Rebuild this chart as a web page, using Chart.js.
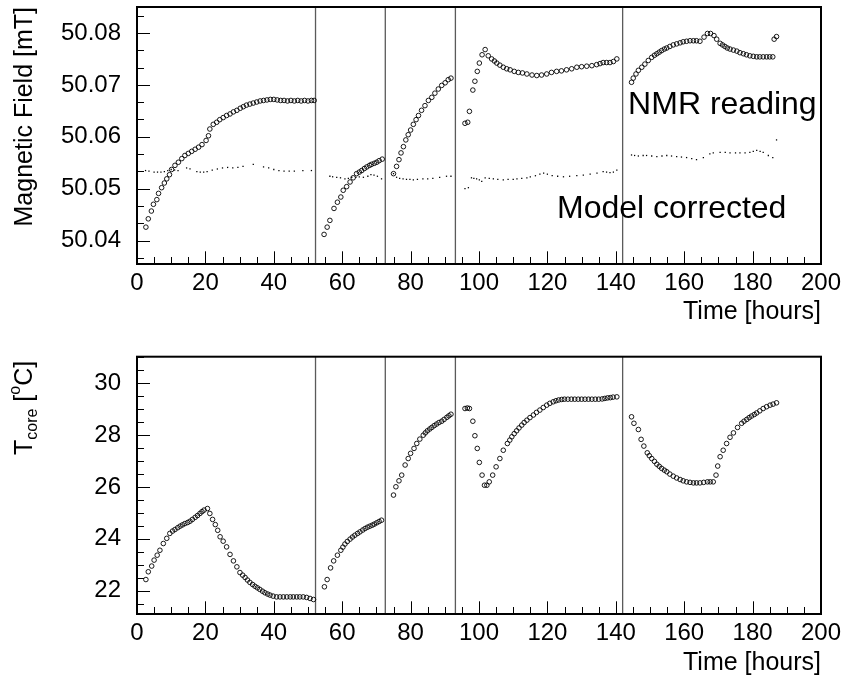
<!DOCTYPE html>
<html><head><meta charset="utf-8">
<script src="https://cdn.jsdelivr.net/npm/chart.js@4/dist/chart.umd.min.js"></script>
<style>
html,body{margin:0;padding:0;background:#fff;overflow:hidden;width:846px;height:675px;position:relative}
#c1{position:absolute;left:0;top:0}
#c2{position:absolute;left:0;top:337px}
</style></head><body>
<canvas id="c1" width="846" height="337"></canvas>
<canvas id="c2" width="846" height="360"></canvas>
<script>
// ---------- data ----------
const nmrTime = [
 2.6,3.3,4.2,4.8,5.8,6.3,7.2,8.0,8.7,9.5,10.1,11.1,12.1,13.1,14.0,15.0,16.0,17.0,18.0,19.0,20.2,20.9,21.3,22.3,23.3,24.2,25.2,26.2,27.2,28.2,29.2,30.2,31.1,32.0,33.0,34.0,35.0,36.0,37.0,38.0,39.0,40.0,41.0,42.0,43.0,44.0,45.0,46.0,47.0,48.0,49.0,50.0,51.0,51.8,
 54.7,55.6,56.4,57.6,58.6,59.6,60.3,61.3,62.3,63.2,64.2,65.0,65.7,66.5,67.2,68.0,68.6,69.4,70.1,70.8,71.7,
 75.0,75.9,76.6,77.2,77.9,78.6,79.3,80.0,80.8,81.6,82.3,83.2,84.2,85.2,86.2,87.1,88.1,89.1,90.1,91.0,91.8,
 95.9,96.7,97.2,98.2,98.8,99.5,100.1,100.9,101.8,102.7,103.7,104.5,105.2,106.1,107.1,108.1,109.1,110.3,111.5,112.7,114.0,115.5,116.9,118.3,119.8,121.2,122.7,124.1,125.6,127.1,128.6,130.0,131.5,133.0,134.4,135.4,136.3,137.3,138.3,139.3,140.3,
 144.6,145.1,145.9,146.6,147.6,148.5,149.5,150.5,151.3,152.0,152.7,153.4,154.2,154.9,155.8,156.8,157.8,158.8,159.7,160.7,161.7,162.7,163.6,164.6,165.8,166.8,167.7,168.7,169.5,170.5,171.2,171.9,172.6,173.4,174.4,175.4,176.3,177.3,178.2,179.2,180.2,181.2,182.1,183.1,184.1,185.0,185.9,186.3,187.0
];
const nmrField = [
 50.0426,50.0442,50.0457,50.0470,50.0479,50.0491,50.0502,50.0511,50.0519,50.0527,50.0537,50.0545,50.0551,50.0558,50.0564,50.0568,50.0572,50.0576,50.0580,50.0585,50.0593,50.0602,50.0615,50.0624,50.0628,50.0633,50.0637,50.0641,50.0644,50.0648,50.0651,50.0655,50.0658,50.0661,50.0663,50.0665,50.0667,50.0669,50.0670,50.0671,50.0672,50.0672,50.0671,50.0670,50.0670,50.0669,50.0670,50.0669,50.0670,50.0669,50.0670,50.0669,50.0670,50.0670,
 50.0412,50.0426,50.0439,50.0462,50.0474,50.0484,50.0497,50.0504,50.0513,50.0521,50.0529,50.0532,50.0535,50.0539,50.0542,50.0545,50.0547,50.0549,50.0551,50.0554,50.0557,
 50.0529,50.0543,50.0556,50.0569,50.0581,50.0594,50.0604,50.0613,50.0624,50.0633,50.0641,50.0651,50.0660,50.0670,50.0676,50.0684,50.0692,50.0699,50.0704,50.0710,50.0713,
 50.0626,50.0628,50.0649,50.0690,50.0707,50.0726,50.0742,50.0758,50.0768,50.0756,50.0750,50.0746,50.0742,50.0738,50.0734,50.0731,50.0729,50.0726,50.0724,50.0723,50.0721,50.0719,50.0718,50.0719,50.0721,50.0724,50.0726,50.0727,50.0729,50.0731,50.0734,50.0735,50.0736,50.0737,50.0739,50.0741,50.0743,50.0743,50.0743,50.0745,50.0750,
 50.0705,50.0713,50.0721,50.0728,50.0734,50.0740,50.0747,50.0753,50.0757,50.0760,50.0763,50.0766,50.0769,50.0771,50.0774,50.0777,50.0779,50.0781,50.0783,50.0784,50.0785,50.0785,50.0785,50.0784,50.0792,50.0799,50.0799,50.0795,50.0788,50.0780,50.0777,50.0774,50.0771,50.0769,50.0767,50.0765,50.0762,50.0760,50.0758,50.0756,50.0755,50.0754,50.0754,50.0754,50.0754,50.0754,50.0754,50.0788,50.0793
];
const modelTime = [
 2.5,3.5,5.0,6.0,7.0,8.0,9.0,10.0,11.0,12.0,14.5,15.5,17.5,18.5,19.5,20.5,22.0,23.5,25.0,26.5,28.0,29.5,31.0,34.0,37.0,38.5,40.0,41.5,43.0,44.5,46.0,48.5,51.0,
 56.4,57.2,58.4,59.5,60.8,61.8,62.8,64.0,65.0,66.2,67.5,68.4,69.3,70.3,71.5,
 75.0,75.9,76.8,77.8,78.8,79.8,80.8,82.0,83.6,85.0,86.5,88.5,90.5,91.8,
 95.9,96.9,97.8,98.5,99.3,100.1,100.8,101.8,103.0,104.2,105.5,107.1,108.5,110.0,111.1,112.5,114.0,115.0,116.5,117.8,118.9,120.0,121.4,123.0,124.7,126.5,128.6,130.5,132.5,134.5,136.3,137.3,138.3,139.3,140.3,
 144.6,145.5,146.6,148.0,149.0,150.5,152.0,153.5,154.9,156.3,157.8,159.2,160.7,162.2,163.6,165.6,167.5,168.5,170.5,172.0,173.4,175.0,176.3,177.8,179.2,180.2,181.2,182.2,183.1,184.6,185.9,187.0
];
const modelField = [
 50.0535,50.0534,50.0532,50.0532,50.0532,50.0533,50.0535,50.0537,50.0536,50.0535,50.0540,50.0538,50.0533,50.0532,50.0532,50.0533,50.0536,50.0538,50.0540,50.0541,50.0540,50.0541,50.0543,50.0547,50.0542,50.0540,50.0537,50.0535,50.0534,50.0534,50.0534,50.0535,50.0535,
 50.0524,50.0523,50.0522,50.0521,50.0519,50.0520,50.0522,50.0522,50.0523,50.0522,50.0524,50.0527,50.0526,50.0524,50.0519,
 50.0529,50.0522,50.0520,50.0519,50.0518,50.0518,50.0517,50.0518,50.0519,50.0519,50.0520,50.0522,50.0524,50.0524,
 50.0500,50.0502,50.0521,50.0520,50.0519,50.0517,50.0514,50.0521,50.0520,50.0519,50.0518,50.0517,50.0518,50.0518,50.0519,50.0520,50.0521,50.0523,50.0525,50.0528,50.0530,50.0528,50.0525,50.0524,50.0523,50.0524,50.0525,50.0526,50.0528,50.0530,50.0533,50.0532,50.0531,50.0532,50.0536,
 50.0565,50.0564,50.0563,50.0564,50.0564,50.0563,50.0562,50.0563,50.0564,50.0563,50.0562,50.0561,50.0560,50.0558,50.0556,50.0560,50.0567,50.0569,50.0570,50.0570,50.0569,50.0569,50.0569,50.0569,50.0570,50.0572,50.0574,50.0572,50.0570,50.0564,50.0560,50.0594
];
const coreTime = [
 2.6,3.3,4.3,5.0,5.9,6.7,7.7,8.7,9.6,10.4,11.1,11.9,12.6,13.3,14.0,14.8,15.5,16.2,17.0,17.7,18.4,19.0,19.6,20.6,21.3,22.1,22.9,23.6,24.3,25.2,26.2,27.2,28.2,29.2,30.1,30.9,31.6,32.3,33.0,33.8,34.5,35.2,35.9,36.7,37.4,38.2,38.9,39.8,40.8,41.8,42.8,43.8,44.8,45.7,46.7,47.6,48.6,49.6,50.6,51.6,
 54.8,55.6,56.6,57.5,58.6,59.6,60.2,60.8,61.5,62.3,63.0,63.7,64.5,65.2,66.0,66.7,67.4,68.1,68.8,69.4,70.1,70.8,71.5,
 75.0,75.7,76.6,77.4,78.4,79.3,80.0,81.0,81.8,82.7,83.7,84.3,84.9,85.6,86.2,86.9,87.6,88.3,89.1,89.8,90.6,91.2,91.8,
 95.9,96.6,97.2,98.2,98.8,99.5,100.1,100.9,101.6,102.3,103.0,104.0,105.0,106.1,107.1,108.3,109.0,109.6,110.3,111.0,111.7,112.5,113.2,114.0,114.9,115.9,116.8,117.8,118.8,119.8,120.7,121.7,122.5,123.3,124.2,125.0,126.0,127.0,128.0,129.0,130.0,131.0,132.0,133.0,134.0,135.0,136.0,136.8,137.6,138.4,139.2,140.3,
 144.6,145.3,146.6,147.4,148.2,149.2,149.8,150.5,151.3,152.0,152.7,153.4,154.2,154.9,155.8,156.8,157.8,158.8,159.7,160.7,161.7,162.7,163.6,164.6,165.7,166.8,167.6,168.5,169.3,169.8,170.5,171.4,172.4,173.4,174.4,175.6,176.8,177.5,178.3,179.0,179.7,180.5,181.2,182.1,183.1,184.1,185.1,186.0,187.0
];
const coreTemp = [
 22.43,22.73,22.95,23.18,23.37,23.56,23.82,24.02,24.21,24.30,24.36,24.43,24.49,24.54,24.59,24.63,24.68,24.75,24.83,24.90,24.98,25.05,25.11,25.17,24.98,24.75,24.55,24.33,24.08,23.91,23.69,23.40,23.15,22.92,22.70,22.60,22.51,22.41,22.32,22.24,22.17,22.11,22.05,21.98,21.92,21.87,21.83,21.79,21.76,21.76,21.76,21.76,21.76,21.76,21.76,21.76,21.76,21.74,21.70,21.66,
 22.15,22.43,22.88,23.15,23.37,23.56,23.68,23.80,23.90,23.99,24.07,24.14,24.21,24.27,24.34,24.40,24.45,24.49,24.53,24.57,24.62,24.67,24.72,
 25.69,26.01,26.24,26.46,26.85,27.10,27.30,27.49,27.68,27.85,28.00,28.09,28.17,28.24,28.30,28.37,28.43,28.49,28.54,28.61,28.69,28.75,28.81,
 29.03,29.05,29.03,28.54,27.98,27.49,26.95,26.46,26.07,26.07,26.20,26.46,26.78,27.10,27.42,27.68,27.81,27.94,28.06,28.17,28.28,28.39,28.49,28.58,28.68,28.78,28.88,28.97,29.07,29.16,29.23,29.29,29.33,29.36,29.38,29.39,29.39,29.39,29.39,29.39,29.39,29.39,29.39,29.39,29.39,29.39,29.40,29.42,29.44,29.45,29.47,29.48,
 28.71,28.46,28.22,27.84,27.58,27.32,27.21,27.10,26.99,26.88,26.80,26.72,26.65,26.59,26.50,26.42,26.35,26.29,26.24,26.20,26.18,26.16,26.16,26.16,26.18,26.20,26.20,26.20,26.46,26.81,27.17,27.42,27.68,27.92,28.09,28.30,28.46,28.54,28.61,28.68,28.74,28.80,28.86,28.94,29.03,29.10,29.16,29.20,29.25
];
const runBoundaries = [52.2, 72.6, 93.1, 142.0];
const timeTicks = [0, 20, 40, 60, 80, 100, 120, 140, 160, 180, 200];
const fieldTicks = [50.04, 50.05, 50.06, 50.07, 50.08];
const tempTicks = [22, 24, 26, 28, 30];

// ---------- helpers ----------
const FONT = "'Liberation Sans', Arial, Helvetica, sans-serif";
Chart.defaults.font.family = FONT;
Chart.defaults.color = '#000';

function pairs(xs, ys) { return xs.map((x, i) => ({x: x, y: ys[i]})); }

const rootFrame = {
  id: 'rootFrame',
  beforeDatasetsDraw(chart, args, o) {
    const {ctx, chartArea: a, scales: {x}} = chart;
    ctx.save();
    ctx.strokeStyle = '#5a5a5a';
    ctx.lineWidth = 1.3;
    runBoundaries.forEach(t => {
      const px = x.getPixelForValue(t);
      ctx.beginPath(); ctx.moveTo(px, a.top); ctx.lineTo(px, a.bottom); ctx.stroke();
    });
    ctx.restore();
  },
  afterDraw(chart, args, o) {
    const {ctx, chartArea: a, scales: {x, y}} = chart;
    ctx.save();
    ctx.strokeStyle = '#000';
    ctx.lineWidth = 1;
    // x ticks, inside frame
    for (let v = 0; v <= 200 + 1e-9; v += 5) {
      const px = Math.round(x.getPixelForValue(v)) + 0.5;
      const len = (v % 20 === 0) ? 12.7 : 7;
      ctx.beginPath(); ctx.moveTo(px, a.bottom); ctx.lineTo(px, a.bottom - len); ctx.stroke();
    }
    // y ticks, inside frame
    for (let i = 0; i <= o.count; i++) {
      const v = o.start + i * o.minor;
      if (v < y.min || v > y.max) continue;
      const py = Math.round(y.getPixelForValue(v)) + 0.5;
      const r = v / o.major;
      const len = Math.abs(r - Math.round(r)) < 1e-3 ? 13 : 7;
      ctx.beginPath(); ctx.moveTo(a.left, py); ctx.lineTo(a.left + len, py); ctx.stroke();
    }
    // frame
    ctx.lineWidth = 2;
    ctx.strokeRect(a.left, a.top, a.right - a.left, a.bottom - a.top);
    // notes
    (o.notes || []).forEach(n => {
      ctx.font = '32px ' + FONT;
      ctx.fillStyle = '#000';
      ctx.textAlign = 'left';
      ctx.textBaseline = 'alphabetic';
      ctx.fillText(n.text, x.getPixelForValue(n.t), y.getPixelForValue(n.v));
    });
    ctx.restore();
  }
};

const coreTitle = {
  id: 'coreTitle',
  afterDraw(chart) {
    const ctx = chart.ctx;
    ctx.save();
    ctx.translate(32, 118);
    ctx.rotate(-Math.PI / 2);
    ctx.fillStyle = '#000';
    ctx.textBaseline = 'alphabetic';
    ctx.textAlign = 'left';
    let cx = 0;
    const big = '25px ' + FONT, small = '16px ' + FONT;
    ctx.font = big; ctx.fillText('T', cx, 0); cx += ctx.measureText('T').width;
    ctx.font = small; ctx.fillText('core', cx, 5); cx += ctx.measureText('core').width;
    ctx.font = big; cx += ctx.measureText(' ').width; ctx.fillText('[', cx, 0); cx += ctx.measureText('[').width;
    ctx.font = small; ctx.fillText('o', cx, -12); cx += ctx.measureText('o').width;
    ctx.font = big; ctx.fillText('C]', cx, 0);
    ctx.restore();
  }
};

function xScale(h) {
  return {
    type: 'linear', position: 'bottom', min: 0, max: 200,
    grid: {display: false, drawTicks: false},
    border: {display: false},
    afterBuildTicks: s => { s.ticks = timeTicks.map(v => ({value: v})); },
    ticks: {font: {size: 24}, color: '#000', padding: 5, maxRotation: 0, autoSkip: false, callback: v => String(v)},
    title: {display: true, text: 'Time [hours]', align: 'end', font: {size: 25}, color: '#000', padding: 0},
    afterFit: s => { s.height = h; s.paddingLeft = 0; s.paddingRight = 0; }
  };
}
function yScale(min, max, ticks, digits, title) {
  return {
    type: 'linear', position: 'left', min: min, max: max,
    grid: {display: false, drawTicks: false},
    border: {display: false},
    afterBuildTicks: s => { s.ticks = ticks.map(v => ({value: v})); },
    ticks: {font: {size: 24}, color: '#000', padding: 16, autoSkip: false, callback: v => v.toFixed(digits)},
    title: title ? {display: true, text: title, align: 'end', font: {size: 25}, color: '#000', padding: {top: 10, bottom: 0}} : {display: false},
    afterFit: s => { s.width = 137; s.paddingTop = 0; s.paddingBottom = 0; }
  };
}

new Chart(document.getElementById('c1'), {
  type: 'scatter',
  data: {datasets: [
    {label: 'NMR reading', data: pairs(nmrTime, nmrField), pointStyle: 'circle', pointRadius: 2.3, borderWidth: 0.9, borderColor: '#000', backgroundColor: 'rgba(0,0,0,0)'},
    {label: 'Model corrected', data: pairs(modelTime, modelField), pointStyle: 'rect', pointRadius: 0.9, borderWidth: 0, backgroundColor: '#000'}
  ]},
  options: {
    responsive: false, animation: false, devicePixelRatio: 1,
    layout: {padding: {left: 0, right: 25, top: 7, bottom: 9.6}},
    plugins: {legend: {display: false}, tooltip: {enabled: false},
      rootFrame: {start: 50.04 - 0.01 / 3, minor: 0.01 / 3, major: 0.01, count: 16,
        notes: [{text: 'NMR reading', t: 143.6, v: 50.06448}, {text: 'Model corrected', t: 122.8, v: 50.04429}]}},
    scales: {x: xScale(63.4), y: yScale(50.0355, 50.0850, fieldTicks, 2, 'Magnetic Field [mT]')}
  },
  plugins: [rootFrame]
});

new Chart(document.getElementById('c2'), {
  type: 'scatter',
  data: {datasets: [
    {label: 'T core', data: pairs(coreTime, coreTemp), pointStyle: 'circle', pointRadius: 2.3, borderWidth: 0.9, borderColor: '#000', backgroundColor: 'rgba(0,0,0,0)'}
  ]},
  options: {
    responsive: false, animation: false, devicePixelRatio: 1,
    layout: {padding: {left: 0, right: 25, top: 19.7, bottom: 18.6}},
    plugins: {legend: {display: false}, tooltip: {enabled: false},
      rootFrame: {start: 21.5, minor: 0.5, major: 2, count: 20, notes: []}},
    scales: {x: xScale(64.4), y: yScale(21.1, 31.03, tempTicks, 0, null)}
  },
  plugins: [rootFrame, coreTitle]
});
</script>
</body></html>
